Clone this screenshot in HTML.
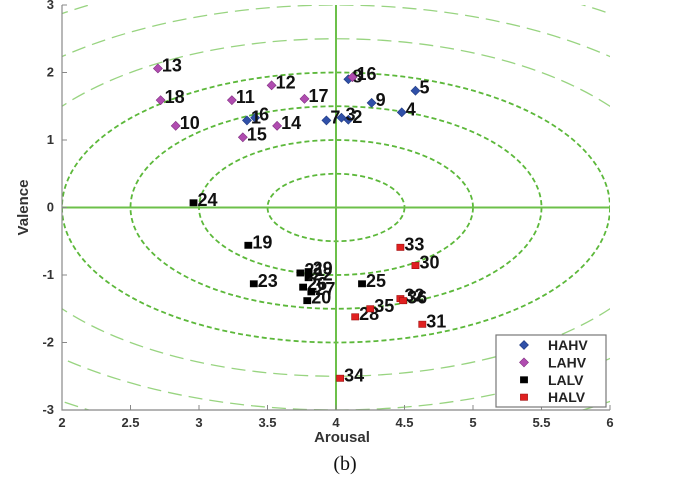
<!DOCTYPE html>
<html><head><meta charset="utf-8"><style>
body{margin:0;background:#fff;}
svg{display:block;font-family:"Liberation Sans",Arial,sans-serif;}
</style></head><body>
<svg id="chart" width="691" height="491" viewBox="0 0 691 491" xmlns="http://www.w3.org/2000/svg"></svg>
<script>
const categories=["HAHV","LAHV","LALV","HALV"];
const colors=["#3050a8","#b04cb0","#000000","#e02020"];
const hahvX=[4.09,4.04,4.48,4.58,3.41,3.93,4.09,4.26,3.35];
const hahvY=[1.30,1.33,1.41,1.73,1.33,1.29,1.90,1.55,1.29];
const hahvL=["2","3","4","5","6","7","8","9","1"];
const lahvX=[2.83,3.24,3.53,2.70,3.57,3.32,4.12,3.77,2.72];
const lahvY=[1.21,1.59,1.81,2.06,1.21,1.04,1.93,1.61,1.59];
const lahvL=["10","11","12","13","14","15","16","17","18"];
const lalvX=[3.36,3.79,3.74,3.80,3.40,2.96,4.19,3.76,3.82,3.80];
const lalvY=[-0.56,-1.38,-0.97,-1.04,-1.13,0.07,-1.13,-1.18,-1.25,-0.95];
const lalvL=["19","20","21","22","23","24","25","26","27","29"];
const halvX=[4.14,4.58,4.63,4.47,4.47,4.03,4.25,4.49];
const halvY=[-1.62,-0.86,-1.73,-1.35,-0.59,-2.53,-1.50,-1.38];
const halvL=["28","30","31","32","33","34","35","36"];
const xTicks=[2,2.5,3,3.5,4,4.5,5,5.5,6];
const yTicks=[-3,-2,-1,0,1,2,3];
const radii=[0.5,1,1.5,2,2.5,3,3.5,4];

const NS="http://www.w3.org/2000/svg";
const svg=document.getElementById('chart');
const X0=62,X1=610,Y0=410,Y1=5;
const sx=v=>X0+(v-2)/4*(X1-X0);
const sy=v=>Y0-(v+3)/6*(Y0-Y1);
function mk(tag,attrs,parent){const e=document.createElementNS(NS,tag);for(const k in attrs)e.setAttribute(k,attrs[k]);(parent||svg).appendChild(e);return e;}

const defs=mk('defs',{});
const cp=mk('clipPath',{id:'clip'},defs);
mk('rect',{x:X0,y:Y1,width:X1-X0,height:Y0-Y1},cp);
const g=mk('g',{'clip-path':'url(#clip)'});


radii.forEach(r=>{
  const inner=r<=2;
  const e=mk('ellipse',{cx:sx(4),cy:sy(0),rx:sx(4+r)-sx(4),ry:sy(0)-sy(r),fill:'none',
    stroke:inner?'#5cb83a':'#98d480','stroke-width':inner?1.8:1.3,'stroke-dasharray':inner?'5,3':'14,7'},g);
  
  
});
const h=mk('line',{x1:X0,x2:X1,y1:sy(0),y2:sy(0),stroke:'#6cc04a','stroke-width':2},g);


const v=mk('line',{x1:sx(4),x2:sx(4),y1:Y1,y2:Y0,stroke:'#6cc04a','stroke-width':2},g);



const ax=mk('path',{d:`M${X0},${Y1}V${Y0}H${X1}`,fill:'none',stroke:'#888','stroke-width':1.2});


xTicks.forEach(t=>{
  mk('line',{x1:sx(t),x2:sx(t),y1:Y0,y2:Y0-5,stroke:'#888'});
  const tx=mk('text',{x:sx(t),y:Y0+17,'text-anchor':'middle','font-size':13,'font-weight':'bold',fill:'#333'});
  tx.textContent=t;
  
  
});
yTicks.forEach(t=>{
  mk('line',{x1:X0,x2:X0+5,y1:sy(t),y2:sy(t),stroke:'#888'});
  const tx=mk('text',{x:X0-8,y:sy(t)+4,'text-anchor':'end','font-size':13,'font-weight':'bold',fill:'#333'});
  tx.textContent=t;
  
  
});
const xt=mk('text',{x:342,y:442,'text-anchor':'middle','font-size':15,'font-weight':'bold',fill:'#333'});
xt.textContent='Arousal';


const yt=mk('text',{x:0,y:0,'text-anchor':'middle','font-size':15,'font-weight':'bold',fill:'#333',transform:`translate(28,${sy(0)}) rotate(-90)`});
yt.textContent='Valence';



function marker(i,x,y,s,parent){
  if(i<2) return mk('path',{d:`M${x},${y-s}L${x+s},${y}L${x},${y+s}L${x-s},${y}Z`,fill:colors[i],stroke:i==0?'#203a80':'#803080','stroke-width':0.6},parent);
  return mk('rect',{x:x-s*0.8,y:y-s*0.7,width:s*1.6,height:s*1.4,fill:colors[i],stroke:i==3?'#a01010':'#000','stroke-width':0.6},parent);
}
const series=[[hahvX,hahvY,hahvL],[lahvX,lahvY,lahvL],[lalvX,lalvY,lalvL],[halvX,halvY,halvL]];
series.forEach((s,i)=>{
  s[0].forEach((xv,j)=>{
    const px=sx(xv),py=sy(s[1][j]);
    const m=marker(i,px,py,4.5);
    
    
    const t=mk('text',{x:px+4,y:py+3,'font-size':18,'font-weight':'bold',fill:'#111'});
    t.textContent=s[2][j];
    
    
  });
});

const lg=mk('g',{});


mk('rect',{x:496,y:335,width:110,height:72,fill:'#fff',stroke:'#777','stroke-width':1.2},lg);
categories.forEach((c,i)=>{
  const y=345+i*17.4;
  const m=marker(i,524,y,4.5,lg);
  
  
  const t=mk('text',{x:548,y:y+5,'font-size':14,'font-weight':'bold',fill:'#222'},lg);
  t.textContent=c;
  
  
});
const cap=mk('text',{x:345,y:470,'text-anchor':'middle','font-size':20,fill:'#111','font-family':'"Liberation Serif",serif'});
cap.textContent='(b)';


</script>
</body></html>
